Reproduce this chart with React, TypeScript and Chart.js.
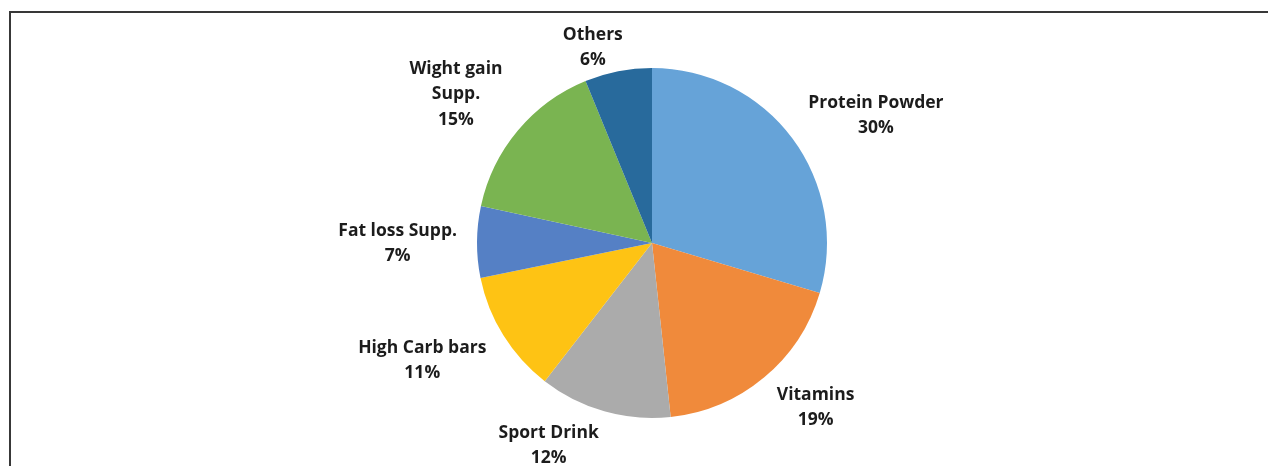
import React, { useEffect, useRef } from "react";
import { Chart, registerables } from "chart.js";

Chart.register(...registerables);

const categories: string[][] = [
  ["Protein Powder"],
  ["Vitamins"],
  ["Sport Drink"],
  ["High Carb bars"],
  ["Fat loss Supp."],
  ["Wight gain", "Supp."],
  ["Others"],
];
const values: number[] = [29.6, 18.7, 12.2, 11.3, 6.6, 15.4, 6.2];
const colors: string[] = ["#66A3D8", "#F08A3B", "#ABABAB", "#FEC314", "#5580C5", "#7AB451", "#286A9C"];

const LINE_H = 25.5;
const FONT = 'bold 17.5px "Open Sans"';
const LABEL_TOP_MIN = 22;

const labelPlugin = {
  id: "outsideLabels",
  afterDatasetsDraw(chart: any) {
    const meta = chart.getDatasetMeta(0);
    const ctx = chart.ctx as CanvasRenderingContext2D;
    const total = values.reduce((a, b) => a + b, 0);
    ctx.save();
    ctx.font = FONT;
    ctx.fillStyle = "#1c1c1c";
    ctx.textAlign = "center";
    ctx.textBaseline = "middle";
    const f = (v: number) => Math.max(-1, Math.min(1, v * 3.7));
    meta.data.forEach((arc: any, i: number) => {
      const { x, y, startAngle, endAngle, outerRadius } = arc.getProps(
        ["x", "y", "startAngle", "endAngle", "outerRadius"],
        true
      );
      const mid = (startAngle + endAngle) / 2;
      const ux = Math.cos(mid);
      const uy = Math.sin(mid);
      const R = outerRadius + 20;
      const ax = x + R * ux;
      const ay = y + R * uy;
      const pct = Math.round((values[i] / total) * 100);
      const lines = [...categories[i], pct + "%"];
      const w = Math.max(...lines.map((t) => ctx.measureText(t).width));
      const cx = ax + (f(ux) * w) / 2;
      let cy = ay + (f(uy) * (lines.length - 1) * LINE_H) / 2 + 2;
      const top = cy - (lines.length * LINE_H) / 2;
      if (top < LABEL_TOP_MIN) cy += LABEL_TOP_MIN - top;
      lines.forEach((t, j) => {
        ctx.fillText(t, cx, cy + (j - (lines.length - 1) / 2) * LINE_H);
      });
    });
    ctx.restore();
  },
};

export default function App() {
  const ref = useRef<HTMLCanvasElement | null>(null);
  useEffect(() => {
    if (!ref.current) return;
    const chart = new Chart(ref.current, {
      type: "pie",
      data: {
        labels: categories.map((c) => c.join(" ")),
        datasets: [
          {
            data: values,
            backgroundColor: colors,
            borderWidth: 0,
          },
        ],
      },
      options: {
        responsive: false,
        animation: false,
        events: [],
        layout: { padding: { left: 477, right: 441, top: 68, bottom: 48 } },
        plugins: {
          legend: { display: false },
          tooltip: { enabled: false },
          title: { display: false },
        },
      },
      plugins: [labelPlugin],
    });
    return () => chart.destroy();
  }, []);

  return (
    <div
      style={{
        position: "fixed",
        left: 0,
        top: 0,
        width: 1268,
        height: 466,
        overflow: "hidden",
        background: "#ffffff",
      }}
    >
      <div
        style={{
          position: "absolute",
          left: 9,
          top: 11,
          width: 1400,
          height: 600,
          borderTop: "2px solid #383838",
          borderLeft: "2px solid #383838",
          boxSizing: "border-box",
        }}
      />
      <canvas
        ref={ref}
        width={1268}
        height={466}
        style={{ position: "absolute", left: 0, top: 0, width: 1268, height: 466 }}
      />
    </div>
  );
}
